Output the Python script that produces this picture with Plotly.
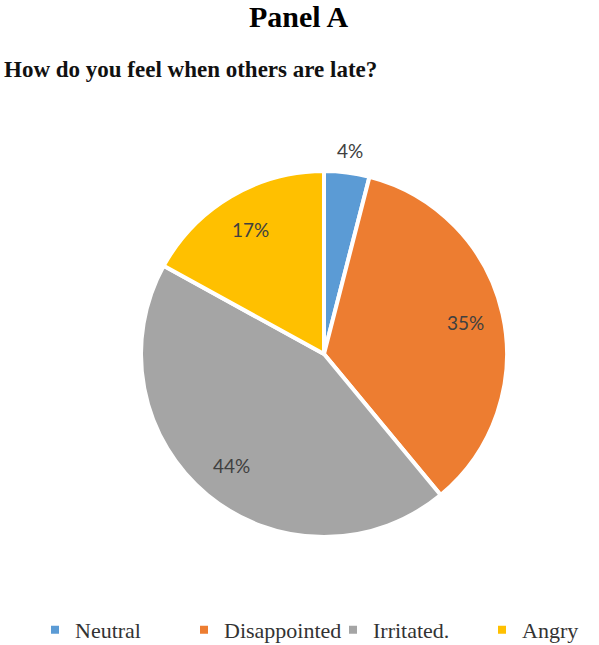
import math
import plotly.graph_objects as go

categories = ["Neutral", "Disappointed", "Irritated.", "Angry"]
values = [4, 35, 44, 17]
colors = ["#5B9BD5", "#ED7D31", "#A5A5A5", "#FFC000"]

W, H = 599, 645
cx, cy, r = 324, 354, 183

fig = go.Figure(go.Pie(
    labels=categories,
    values=values,
    sort=False,
    direction="clockwise",
    rotation=0,
    marker=dict(colors=colors, line=dict(color="white", width=4)),
    textinfo="none",
    domain=dict(x=[(cx - r) / W, (cx + r) / W], y=[1 - (cy + r) / H, 1 - (cy - r) / H]),
    showlegend=True,
))

# percentage labels placed at the slice mid-angles derived from the values
total = sum(values)
annotations = []
cum = 0.0
for v in values:
    frac = v / total
    mid = (cum + frac / 2) * 2 * math.pi
    cum += frac
    d = r * (1.12 if frac < 0.08 else 0.79)
    x = cx + d * math.sin(mid)
    y = cy - d * math.cos(mid)
    annotations.append(dict(
        text=f"{round(frac * 100)}%", x=x / W, y=1 - y / H, xref="paper", yref="paper",
        xanchor="center", yanchor="middle", showarrow=False,
        font=dict(family="Lato, Open Sans, sans-serif", size=19, color="#404040"),
    ))

annotations += [
    dict(text="<b>Panel A</b>", x=299 / W, y=1 - 16 / H, xref="paper", yref="paper",
         xanchor="center", yanchor="middle", showarrow=False,
         font=dict(family="Liberation Serif, Times New Roman, serif", size=30, color="black")),
    dict(text="<b>How do you feel when others are late?</b>", x=2 / W, y=1 - 69 / H,
         xref="paper", yref="paper", xanchor="left", yanchor="middle", showarrow=False,
         font=dict(family="Liberation Serif, Times New Roman, serif", size=23, color="#111111")),
]

fig.update_layout(
    width=W, height=H,
    margin=dict(l=0, r=0, t=0, b=0, autoexpand=False),
    paper_bgcolor="white",
    plot_bgcolor="white",
    legend=dict(
        orientation="h", xref="container", yref="container",
        x=35 / W, xanchor="left", y=1 - 630 / H, yanchor="middle",
        font=dict(family="Liberation Serif, Times New Roman, serif", size=22, color="#333333"),
        entrywidthmode="pixels", entrywidth=104,
    ),
    annotations=annotations,
)

fig.write_html("out.html")
